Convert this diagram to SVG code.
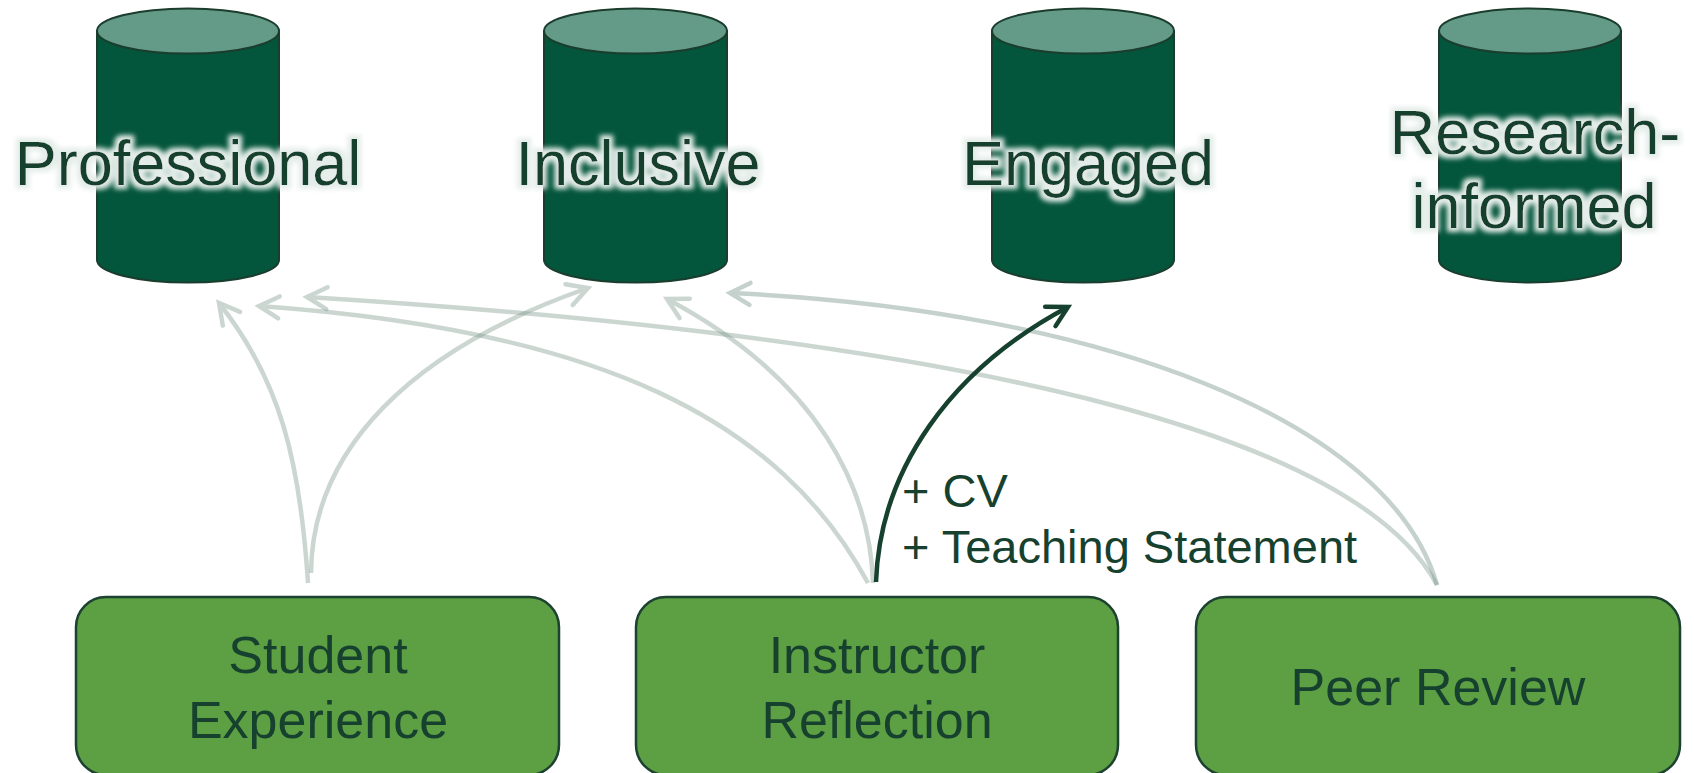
<svg xmlns="http://www.w3.org/2000/svg" width="1694" height="773" viewBox="0 0 1694 773">
<defs>
<style>
.cylbody{fill:#03553b;stroke:#1b3d2e;stroke-width:2}
.cyltop{fill:#649a88;stroke:#1b3d2e;stroke-width:2}
.toplbl{font-family:"Liberation Sans",Arial,sans-serif;font-size:63px;fill:#17412f;text-anchor:middle;filter:url(#glow)}
.box{fill:#5d9f43;stroke:#1d4230;stroke-width:2.5}
.boxlbl{font-family:"Liberation Sans",Arial,sans-serif;font-size:52px;fill:#17412f;text-anchor:middle}
.edgelbl{font-family:"Liberation Sans",Arial,sans-serif;font-size:47px;fill:#17412f}
.light{fill:none;stroke:#7f9a8f;stroke-width:4.5;stroke-linecap:butt}
.dark{fill:none;stroke:#17412f;stroke-width:4.5}
</style>
<filter id="glow" x="-10%" y="-30%" width="120%" height="160%">
<feMorphology in="SourceAlpha" operator="dilate" radius="4" result="d"/>
<feGaussianBlur in="d" stdDeviation="2.5" result="b"/>
<feFlood flood-color="#e4ede9"/>
<feComposite in2="b" operator="in" result="g"/>
<feMerge><feMergeNode in="g"/><feMergeNode in="SourceGraphic"/></feMerge>
</filter>
<marker id="ahL" markerUnits="userSpaceOnUse" viewBox="-24 -14 28 28" refX="0" refY="0" markerWidth="28" markerHeight="28" orient="auto" overflow="visible">
<path d="M-20,-11 L0,0 L-20,11" fill="none" stroke="#7f9a8f" stroke-width="4.5" stroke-linecap="round" stroke-linejoin="miter"/>
</marker>
<marker id="ahD" markerUnits="userSpaceOnUse" viewBox="-24 -14 28 28" refX="0" refY="0" markerWidth="28" markerHeight="28" orient="auto" overflow="visible">
<path d="M-20,-11 L0,0 L-20,11" fill="none" stroke="#17412f" stroke-width="4.5" stroke-linecap="round" stroke-linejoin="miter"/>
</marker>
</defs>
<rect width="1694" height="773" fill="#ffffff"/>

<g id="professional">
<path class="cylbody" d="M97,31 L97,260 A91,22.5 0 0 0 279,260 L279,31 Z"/>
<ellipse class="cyltop" cx="188" cy="31" rx="91" ry="22.5"/>
<text class="toplbl" x="188" y="185">Professional</text>
</g>
<g id="inclusive">
<path class="cylbody" d="M544,31 L544,260 A91.5,22.5 0 0 0 727,260 L727,31 Z"/>
<ellipse class="cyltop" cx="635.5" cy="31" rx="91.5" ry="22.5"/>
<text class="toplbl" x="638" y="185">Inclusive</text>
</g>
<g id="engaged">
<path class="cylbody" d="M992,31 L992,260 A91,22.5 0 0 0 1174,260 L1174,31 Z"/>
<ellipse class="cyltop" cx="1083" cy="31" rx="91" ry="22.5"/>
<text class="toplbl" x="1088" y="185">Engaged</text>
</g>
<g id="research-informed">
<path class="cylbody" d="M1439,31 L1439,260 A91,22.5 0 0 0 1621,260 L1621,31 Z"/>
<ellipse class="cyltop" cx="1530" cy="31" rx="91" ry="22.5"/>
<text class="toplbl" x="1535" y="154">Research-</text>
<text class="toplbl" x="1534" y="228">informed</text>
</g>

<g id="connectors">
<g opacity="0.4">
<path class="light" marker-end="url(#ahL)" d="M308,583 C300,460 280,380 219,303"/>
</g>
<g opacity="0.4">
<path class="light" marker-end="url(#ahL)" d="M311,573 C312,450 410,350 588,288"/>
</g>
<g opacity="0.4">
<path class="light" marker-end="url(#ahL)" d="M868,583 C780,420 600,330 259,306"/>
</g>
<g opacity="0.4">
<path class="light" marker-end="url(#ahL)" d="M873,583 C870,490 820,380 667,299"/>
</g>
<g opacity="0.4">
<path class="light" marker-end="url(#ahL)" d="M1437,585 C1360,440 1000,340 307,297"/>
</g>
<g opacity="0.45">
<path class="light" marker-end="url(#ahL)" d="M1437,585 C1390,420 1100,310 730,293"/>
</g>
<path class="dark" marker-end="url(#ahD)" d="M876,582 C880,470 950,370 1068,307"/>
<text class="edgelbl" x="902" y="507">+ CV</text>
<text class="edgelbl" x="902" y="563">+ Teaching Statement</text>
</g>

<g id="student-experience">
<rect class="box" x="76" y="597" width="483" height="178" rx="30"/>
<text class="boxlbl" x="318" y="673">Student</text>
<text class="boxlbl" x="318" y="738">Experience</text>
</g>
<g id="instructor-reflection">
<rect class="box" x="636" y="597" width="482" height="178" rx="30"/>
<text class="boxlbl" x="877" y="673">Instructor</text>
<text class="boxlbl" x="877" y="738">Reflection</text>
</g>
<g id="peer-review">
<rect class="box" x="1196" y="597" width="484" height="178" rx="30"/>
<text class="boxlbl" x="1438" y="705">Peer Review</text>
</g>
</svg>
